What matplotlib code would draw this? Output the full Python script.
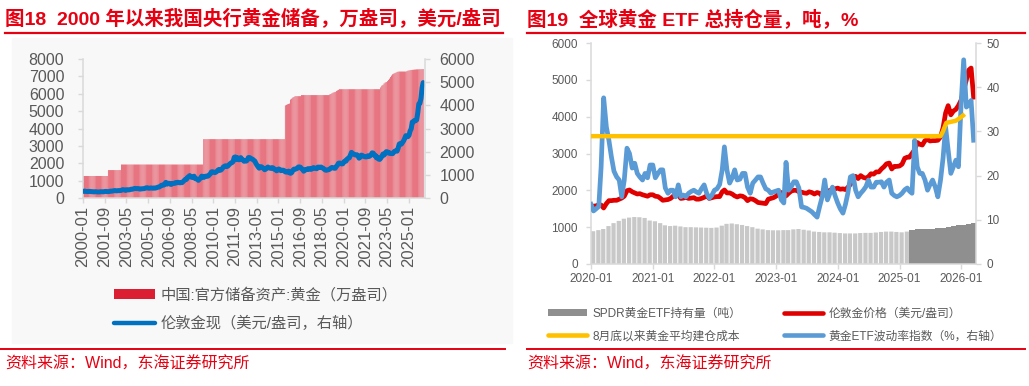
import matplotlib
matplotlib.use('Agg')
import matplotlib.pyplot as plt
import matplotlib.dates as mdates
from matplotlib.lines import Line2D
from matplotlib.patches import Patch, Rectangle
import numpy as np
import pandas as pd

plt.rcParams['font.family'] = ['Liberation Sans', 'Noto Sans CJK SC', 'DejaVu Sans']

RED = '#e60012'
GREY_TXT = '#595959'
SPINE = '#d9d9d9'

# ---------------- left chart data (monthly, 2000-01 .. 2026-02) ----------------
# China official gold reserves, 10k oz, as (value, number of months)
reserve_runs = [
    (1267, 23), (1608, 12), (1929, 76), (3389, 75),
    (5332, 1), (5363, 1), (5393, 1), (5415, 1), (5436, 1), (5666, 1),
    (5719, 1), (5779, 1), (5812, 1), (5861, 1), (5862, 5),
    (5924, 26), (5956, 1),
    (5984, 1), (6026, 1), (6062, 1), (6092, 1), (6107, 1), (6161, 1), (6194, 1), (6226, 1),
    (6264, 38),
    (6367, 1), (6464, 1),
    (6512, 1), (6592, 1), (6650, 1), (6676, 1), (6727, 1), (6795, 1), (6869, 1), (6962, 1),
    (7046, 1), (7120, 1), (7158, 1), (7187, 1),
    (7219, 1), (7258, 1), (7274, 1), (7280, 7), (7296, 1), (7329, 1),
    (7345, 1), (7361, 1), (7370, 1), (7377, 1), (7383, 1), (7390, 1), (7396, 1), (7402, 1),
    (7406, 1), (7409, 1), (7412, 1), (7415, 1),
    (7419, 1), (7422, 1),
]

# London spot gold, USD/oz, monthly
gold_2000 = [285, 300, 286, 280, 275, 286, 282, 275, 274, 271, 266, 272]
gold_2001 = [266, 262, 263, 261, 272, 270, 268, 272, 283, 283, 276, 276]
gold_2002 = [282, 296, 294, 303, 315, 321, 313, 310, 319, 317, 319, 332]
gold_2003 = [357, 359, 341, 328, 356, 356, 351, 360, 379, 379, 390, 408]
gold_2004 = [414, 405, 407, 403, 384, 392, 398, 401, 405, 421, 439, 442]
gold_2005 = [424, 423, 434, 429, 422, 431, 425, 438, 456, 470, 477, 510]
gold_2006 = [550, 555, 557, 611, 675, 596, 634, 633, 598, 586, 628, 630]
gold_2007 = [631, 665, 655, 679, 667, 656, 665, 665, 713, 755, 806, 803]
gold_2008 = [890, 922, 968, 910, 889, 890, 940, 839, 830, 807, 761, 816]
gold_2009 = [859, 943, 924, 890, 929, 946, 934, 949, 997, 1043, 1127, 1135]
gold_2010 = [1118, 1095, 1113, 1149, 1205, 1233, 1193, 1216, 1271, 1342, 1370, 1391]
gold_2011 = [1356, 1373, 1424, 1474, 1510, 1529, 1573, 1756, 1772, 1665, 1739, 1652]
gold_2012 = [1656, 1743, 1674, 1650, 1586, 1597, 1594, 1626, 1745, 1747, 1722, 1685]
gold_2013 = [1671, 1628, 1593, 1488, 1414, 1343, 1286, 1352, 1349, 1317, 1276, 1222]
gold_2014 = [1244, 1300, 1336, 1299, 1289, 1279, 1311, 1295, 1237, 1223, 1175, 1201]
gold_2015 = [1251, 1227, 1179, 1199, 1199, 1182, 1128, 1118, 1125, 1159, 1086, 1068]
gold_2016 = [1098, 1200, 1245, 1242, 1261, 1276, 1337, 1340, 1327, 1267, 1238, 1157]
gold_2017 = [1192, 1234, 1231, 1267, 1246, 1260, 1237, 1283, 1314, 1280, 1282, 1265]
gold_2018 = [1331, 1331, 1325, 1335, 1304, 1282, 1238, 1202, 1198, 1215, 1221, 1250]
gold_2019 = [1292, 1320, 1301, 1286, 1284, 1359, 1413, 1500, 1511, 1495, 1470, 1479]
gold_2020 = [1561, 1597, 1592, 1683, 1716, 1732, 1847, 1969, 1922, 1900, 1866, 1858]
gold_2021 = [1868, 1808, 1718, 1760, 1850, 1835, 1808, 1785, 1776, 1777, 1821, 1790]
gold_2022 = [1816, 1856, 1948, 1937, 1849, 1837, 1733, 1765, 1681, 1665, 1725, 1798]
gold_2023 = [1898, 1854, 1913, 2000, 1993, 1943, 1951, 1919, 1916, 1917, 1986, 2027]
gold_2024 = [2034, 2023, 2158, 2330, 2351, 2326, 2398, 2470, 2570, 2690, 2650, 2648]
gold_2025 = [2710, 2895, 2983, 3280, 3280, 3350, 3340, 3370, 3665, 4060, 4090, 4300]
gold_2026 = [4750, 4980]

reserves = np.concatenate([[v] * n for v, n in reserve_runs])
gold_m = np.concatenate([gold_2000, gold_2001, gold_2002, gold_2003, gold_2004, gold_2005,
                         gold_2006, gold_2007, gold_2008, gold_2009, gold_2010, gold_2011,
                         gold_2012, gold_2013, gold_2014, gold_2015, gold_2016, gold_2017,
                         gold_2018, gold_2019, gold_2020, gold_2021, gold_2022, gold_2023,
                         gold_2024, gold_2025, gold_2026])
months = pd.date_range('2000-01-01', periods=len(reserves), freq='MS')
month_labels = months.strftime('%Y-%m')

# ---------------- right chart data (half-monthly, 2020-01 .. 2026-03) ----------------
# London gold price, USD/oz (left axis)
ldn_2020 = [1560, 1570, 1580, 1610, 1600, 1520, 1640, 1720, 1720, 1730, 1730, 1760,
            1790, 1840, 1990, 2010, 1960, 1930, 1900, 1910, 1880, 1860, 1840, 1880]
ldn_2021 = [1880, 1840, 1830, 1780, 1730, 1740, 1750, 1780, 1840, 1870, 1870, 1780,
            1790, 1810, 1780, 1790, 1800, 1760, 1760, 1780, 1810, 1850, 1780, 1800]
ldn_2022 = [1820, 1830, 1830, 1960, 2010, 1930, 1930, 1900, 1850, 1820, 1850, 1840,
            1800, 1720, 1770, 1760, 1720, 1670, 1660, 1650, 1640, 1760, 1780, 1800]
ldn_2023 = [1840, 1910, 1940, 1840, 1850, 1920, 1980, 2000, 2000, 1960, 1950, 1930,
            1920, 1960, 1940, 1900, 1940, 1920, 1840, 1930, 1990, 1980, 2040, 2040]
ldn_2024 = [2060, 2030, 2040, 2020, 2080, 2160, 2300, 2380, 2320, 2400, 2350, 2330,
            2370, 2450, 2440, 2500, 2500, 2580, 2640, 2720, 2740, 2580, 2650, 2650]
ldn_2025 = [2660, 2710, 2870, 2900, 2900, 3000, 3100, 3300, 3250, 3230, 3350, 3380,
            3340, 3350, 3350, 3360, 3450, 3700, 4100, 4300, 4050, 4150, 4200, 4300]
ldn_2026 = [4450, 4720, 5000, 5270, 5320, 4530]

# Gold ETF volatility index, % (right axis)
vol_2020 = [13.5, 12.0, 12.5, 13.0, 22.0, 37.6, 31.0, 28.0, 24.2, 21.0, 19.7, 19.0,
            15.2, 19.0, 26.2, 25.0, 21.7, 22.8, 20.5, 19.7, 19.0, 20.5, 19.5, 22.4]
vol_2021 = [22.4, 19.5, 20.5, 21.3, 21.3, 17.2, 16.0, 16.7, 16.7, 15.2, 17.9, 15.2,
            15.6, 15.2, 16.0, 16.4, 16.7, 16.3, 16.0, 17.0, 17.9, 16.0, 14.9, 15.5]
vol_2022 = [16.7, 17.0, 18.0, 21.3, 26.5, 21.3, 18.3, 19.5, 21.3, 19.0, 19.2, 20.5,
            20.5, 17.4, 16.0, 18.3, 19.0, 19.7, 19.7, 18.3, 17.0, 16.7, 16.0, 16.3]
vol_2023 = [16.5, 16.7, 14.5, 13.8, 23.0, 16.7, 17.5, 18.6, 18.6, 17.2, 12.9, 12.8,
            12.6, 12.2, 11.8, 11.2, 10.6, 13.0, 15.2, 19.0, 14.5, 16.0, 17.4, 15.5]
vol_2024 = [13.8, 12.5, 11.5, 13.5, 16.0, 19.7, 20.0, 16.7, 15.2, 16.0, 16.7, 17.5,
            19.0, 17.4, 17.4, 18.5, 18.5, 18.6, 17.4, 18.5, 19.0, 16.0, 15.5, 15.2]
vol_2025 = [15.5, 16.0, 16.8, 17.2, 16.5, 16.0, 28.0, 22.0, 20.5, 20.5, 19.0, 16.7,
            18.0, 19.0, 17.4, 15.2, 19.0, 24.0, 31.0, 25.8, 20.5, 22.0, 23.5, 22.0]
vol_2026 = [36.4, 46.2, 35.5, 36.0, 37.0, 28.0]

# SPDR gold ETF holdings, tonnes, monthly
spdr_2020 = [890, 920, 950, 1030, 1110, 1170, 1230, 1260, 1275, 1270, 1250, 1180]
spdr_2021 = [1160, 1110, 1050, 1030, 1040, 1020, 1000, 1000, 995, 990, 985, 980]
spdr_2022 = [990, 1040, 1090, 1100, 1080, 1060, 1030, 1000, 960, 940, 920, 915]
spdr_2023 = [915, 920, 920, 940, 950, 930, 910, 880, 870, 860, 860, 850]
spdr_2024 = [840, 830, 830, 830, 840, 845, 845, 855, 870, 880, 880, 870]
spdr_2025 = [860, 880, 920, 950, 940, 950, 960, 965, 990, 1010, 1040, 1050]
spdr_2026 = [1070, 1090, 1100]

# average holding cost since end of August
cost_dates = ['2020-01-01', '2025-09-01', '2025-09-15', '2025-10-05', '2025-11-01',
              '2025-12-01', '2026-01-01', '2026-01-12']
cost_vals = [3470, 3470, 3600, 3830, 3860, 3890, 3990, 4030]

ldn = np.concatenate([ldn_2020, ldn_2021, ldn_2022, ldn_2023, ldn_2024, ldn_2025, ldn_2026])
vol = np.concatenate([vol_2020, vol_2021, vol_2022, vol_2023, vol_2024, vol_2025, vol_2026])
spdr = np.concatenate([spdr_2020, spdr_2021, spdr_2022, spdr_2023, spdr_2024, spdr_2025, spdr_2026])
ms = pd.date_range('2020-01-01', periods=len(spdr), freq='MS')
half = np.sort(np.concatenate([ms.values, (ms + pd.Timedelta(days=15)).values]))
cost_d = pd.to_datetime(cost_dates)

# ---------------- figure ----------------
W, H = 1029, 386
fig = plt.figure(figsize=(W / 100, H / 100), dpi=100)

def fx(px):
    return px / W

def fy(py):
    return 1 - py / H

fig.patches.append(Rectangle((fx(12), fy(343)), fx(500), (343 - 38) / H,
                             transform=fig.transFigure, color='#f8f8f8', zorder=-10))

# titles, rules, source
fig.text(fx(5), fy(19), '图18  2000 年以来我国央行黄金储备，万盎司，美元/盎司', color=RED,
         fontsize=14, fontweight='bold', va='center', ha='left')
fig.text(fx(527), fy(19), '图19  全球黄金 ETF 总持仓量，吨，%', color=RED,
         fontsize=14, fontweight='bold', va='center', ha='left')
for x0, x1 in [(5, 503), (527, 1025)]:
    fig.add_artist(Line2D([fx(x0), fx(x1)], [fy(33), fy(33)], color=RED, lw=1.6))
for x0, x1 in [(0, 505), (527, 1025)]:
    fig.add_artist(Line2D([fx(x0), fx(x1)], [fy(349), fy(349)], color=RED, lw=1.4))
fig.text(fx(5), fy(364), '资料来源：Wind，东海证券研究所', color=RED, fontsize=11.5, va='center')
fig.text(fx(527), fy(364), '资料来源：Wind，东海证券研究所', color=RED, fontsize=11.5, va='center')


def style_axes(a, size):
    a.set_facecolor('none')
    for s in a.spines.values():
        s.set_color(SPINE)
        s.set_linewidth(1.1)
    a.spines['top'].set_visible(False)
    a.tick_params(colors=SPINE, labelcolor=GREY_TXT, labelsize=size, length=3.5, width=1.0)


# ---------------- left chart ----------------
ax = fig.add_axes([fx(83), fy(198), fx(425 - 83), (198 - 59) / H])
style_axes(ax, 11.5)
idx = np.arange(len(reserves))
ax.bar(idx, reserves, width=0.55, align='edge', color='#dc1e32', linewidth=0, snap=False)
ax.set_xlim(0, len(reserves) + 1)
ax.set_ylim(0, 8000)
ax.set_yticks(np.arange(0, 8001, 1000))
ax.set_xticks(idx[::20])
ax.set_xticklabels(month_labels[::20], rotation=90)
ax.tick_params(axis='x', labelsize=12, pad=2)
ax.tick_params(axis='y', pad=10)
ax.spines['right'].set_visible(False)

ax2 = ax.twinx()
style_axes(ax2, 11.5)
ax2.plot(idx + 0.3, gold_m, color='#0070c0', lw=3.6, solid_capstyle='round')
ax2.set_ylim(0, 6000)
ax2.set_yticks(np.arange(0, 6001, 1000))
ax2.tick_params(axis='y', pad=7)
ax2.spines['left'].set_visible(False)
ax2.spines['bottom'].set_visible(False)

lh = [Patch(color='#dc1e32', linewidth=0),
      Line2D([], [], color='#0070c0', lw=3.2, solid_capstyle='round')]
ax.legend(lh, ['中国:官方储备资产:黄金（万盎司）', '伦敦金现（美元/盎司，右轴）'],
          loc='center left', bbox_to_anchor=(fx(100), fy(309)), bbox_transform=fig.transFigure,
          frameon=False, fontsize=11, labelcolor=GREY_TXT, handlelength=2.7,
          handleheight=0.55, handletextpad=0.35, labelspacing=0.85)

# ---------------- right chart ----------------
bx = fig.add_axes([fx(591), fy(264), fx(976 - 591), (264 - 43) / H])
style_axes(bx, 8.5)
light = ms < pd.Timestamp('2025-03-01')
bx.bar(ms[light], spdr[light], width=25, align='edge', color='#c8c8c8', linewidth=0, snap=False)
bx.bar(ms[~light], spdr[~light], width=31, align='edge', color='#8f8f8f', linewidth=0)
bx.plot(half, ldn, color='#e00000', lw=3.4, zorder=3)
bx.set_ylim(0, 6000)
bx.set_yticks(np.arange(0, 6001, 1000))
bx.set_xlim(pd.Timestamp('2020-01-01'), pd.Timestamp('2026-03-30'))
bx.xaxis.set_major_locator(mdates.YearLocator())
bx.xaxis.set_major_formatter(mdates.DateFormatter('%Y-%m'))
bx.tick_params(axis='y', pad=6)
bx.tick_params(axis='x', pad=3)
bx.spines['right'].set_visible(False)

bx2 = bx.twinx()
style_axes(bx2, 8.5)
bx2.plot(half, vol, color='#5b9bd5', lw=3.4)
bx2.plot(cost_d, cost_vals, color='#ffc000', lw=3.2, transform=bx.transData)
bx2.set_ylim(0, 50)
bx2.set_yticks(np.arange(0, 51, 10))
bx2.tick_params(axis='y', pad=4)
bx2.spines['left'].set_visible(False)
bx2.spines['bottom'].set_visible(False)

rh = [Patch(color='#8f8f8f', linewidth=0),
      Line2D([], [], color='#ffc000', lw=3.3, solid_capstyle='round'),
      Line2D([], [], color='#e00000', lw=3.3, solid_capstyle='round'),
      Line2D([], [], color='#5b9bd5', lw=3.3, solid_capstyle='round')]
bx.legend(rh, ['SPDR黄金ETF持有量（吨）', '8月底以来黄金平均建仓成本',
               '伦敦金价格（美元/盎司）', '黄金ETF波动率指数（%，右轴）'],
          ncol=2, loc='center left', bbox_to_anchor=(fx(537), fy(325)),
          bbox_transform=fig.transFigure, frameon=False, fontsize=8.5,
          labelcolor=GREY_TXT, handlelength=3.3, handleheight=0.55,
          handletextpad=0.5, labelspacing=0.9, columnspacing=3.6)

fig.savefig('out.png', dpi=100)
